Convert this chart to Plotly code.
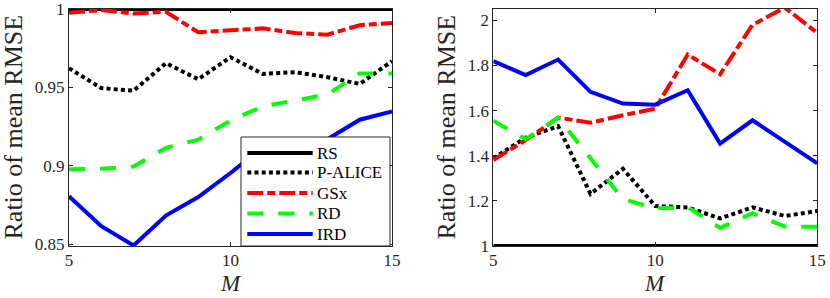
import plotly.graph_objects as go

# ---------------- data ----------------
M = [5, 6, 7, 8, 9, 10, 11, 12, 13, 14, 15]
series_names = ["RS", "P-ALICE", "GSx", "RD", "IRD"]

left_RS = [1.0] * 11
left_PALICE = [0.9623, 0.9496, 0.9480, 0.9655, 0.9553, 0.9693, 0.9587, 0.9598, 0.9566, 0.9523, 0.9668]
left_GSx = [0.9976, 0.9994, 0.9972, 0.9983, 0.9852, 0.9867, 0.9877, 0.9847, 0.9837, 0.9897, 0.9912]
left_RD = [0.8979, 0.8982, 0.8997, 0.9115, 0.9168, 0.9290, 0.9380, 0.9420, 0.9455, 0.9590, 0.9590]
left_IRD = [0.8807, 0.8616, 0.8493, 0.8684, 0.8802, 0.8955, 0.9120, 0.9140, 0.9170, 0.9295, 0.9347]

right_RS = [1.0] * 11
right_PALICE = [1.388, 1.480, 1.531, 1.231, 1.342, 1.177, 1.171, 1.122, 1.171, 1.133, 1.155]
right_GSx = [1.381, 1.469, 1.569, 1.546, 1.579, 1.609, 1.848, 1.761, 1.980, 2.056, 1.944]
right_RD = [1.555, 1.473, 1.569, 1.390, 1.208, 1.167, 1.172, 1.080, 1.145, 1.086, 1.085]
right_IRD = [1.819, 1.757, 1.826, 1.683, 1.631, 1.626, 1.690, 1.454, 1.557, 1.462, 1.366]

left_yticks = [0.85, 0.9, 0.95, 1]
left_yticklabels = ["0.85", "0.9", "0.95", "1"]
right_yticks = [1, 1.2, 1.4, 1.6, 1.8, 2]
right_yticklabels = ["1", "1.2", "1.4", "1.6", "1.8", "2"]
xticks = [5, 10, 15]
xticklabels = ["5", "10", "15"]

# ---------------- styles ----------------
W, H = 830, 298
FONT = "Liberation Serif, Times New Roman, serif"
AX = "#262626"
styles = {
    "RS": dict(color="#000000", dash="solid"),
    "P-ALICE": dict(color="#000000", dash="4px,3.2px"),
    "GSx": dict(color="#ff0000", dash="16px,4px,8px,4px"),
    "RD": dict(color="#00ff00", dash="16px,15px"),
    "IRD": dict(color="#0000ff", dash="solid"),
}
LW = 4


def pxx(p):
    return p / W


def pxy(p):
    return 1 - p / H


left = dict(zip(series_names, [left_RS, left_PALICE, left_GSx, left_RD, left_IRD]))
right = dict(zip(series_names, [right_RS, right_PALICE, right_GSx, right_RD, right_IRD]))

fig = go.Figure()
for data, xa, ya in [(left, "x", "y"), (right, "x2", "y2")]:
    for name in series_names:
        st = styles[name]
        fig.add_trace(go.Scatter(
            x=M, y=data[name], mode="lines", name=name, showlegend=False,
            xaxis=xa, yaxis=ya, hoverinfo="skip",
            line=dict(color=st["color"], dash=st["dash"], width=LW),
            cliponaxis=(name != "RS"),
        ))

axis_common = dict(
    showgrid=False, zeroline=False, showline=True, linecolor=AX, linewidth=1,
    mirror="allticks", ticks="inside", ticklen=4, tickcolor=AX, tickwidth=1,
    tickfont=dict(family=FONT, size=17, color=AX), automargin=False,
)
dom_y = [pxy(246), pxy(9)]
fig.update_layout(
    width=W, height=H, margin=dict(l=0, r=0, t=0, b=0),
    paper_bgcolor="white", plot_bgcolor="white", showlegend=False,
    xaxis=dict(domain=[pxx(69), pxx(392)], range=[5, 15.0001], tickvals=xticks,
               ticktext=xticklabels, anchor="y", ticklabelstandoff=-1, **axis_common),
    yaxis=dict(domain=dom_y, range=[0.849, 1.00005], tickvals=left_yticks,
               ticktext=left_yticklabels, anchor="x", **axis_common),
    xaxis2=dict(domain=[pxx(493.3), pxx(817.3)], range=[5, 15.0001], tickvals=xticks,
                ticktext=xticklabels, anchor="y2", ticklabelstandoff=-1, **axis_common),
    yaxis2=dict(domain=dom_y, range=[1, 2.05], tickvals=right_yticks,
                ticktext=right_yticklabels, anchor="x2", **axis_common),
)

# axis titles
ann = []
for xc in [13, 446]:
    ann.append(dict(x=pxx(xc), y=pxy(127.5), xref="paper", yref="paper",
                    text="Ratio of mean RMSE", textangle=-90, showarrow=False,
                    xanchor="center", yanchor="middle",
                    font=dict(family=FONT, size=26, color=AX)))
for xc in [230.5, 655.3]:
    ann.append(dict(x=pxx(xc), y=0, xref="paper", yref="paper",
                    text="<i>M</i>", showarrow=False, height=26,
                    xanchor="center", yanchor="bottom", valign="middle",
                    font=dict(family=FONT, size=23, color=AX)))

# legend (drawn as decorations in the left panel)
shapes = [dict(type="rect", xref="paper", yref="paper", layer="above",
               x0=pxx(241), x1=pxx(390), y0=pxy(246), y1=pxy(137),
               line=dict(color=AX, width=1), fillcolor="white")]
leg_rows = [153, 172.5, 193, 213.5, 234]
for name, yr in zip(series_names, leg_rows):
    st = styles[name]
    shapes.append(dict(type="line", xref="paper", yref="paper", layer="above",
                       x0=pxx(247.3), x1=pxx(312.7), y0=pxy(yr), y1=pxy(yr),
                       line=dict(color=st["color"], dash=st["dash"], width=LW)))
    ann.append(dict(x=pxx(315), y=pxy(yr), xref="paper", yref="paper",
                    text=name, showarrow=False, xanchor="left", yanchor="middle",
                    font=dict(family=FONT, size=17, color="#000000")))

fig.update_layout(annotations=ann, shapes=shapes)
fig.write_html("out.html", config={"displayModeBar": False},
               post_script="document.body.style.margin='0px';document.body.style.overflow='hidden';")
